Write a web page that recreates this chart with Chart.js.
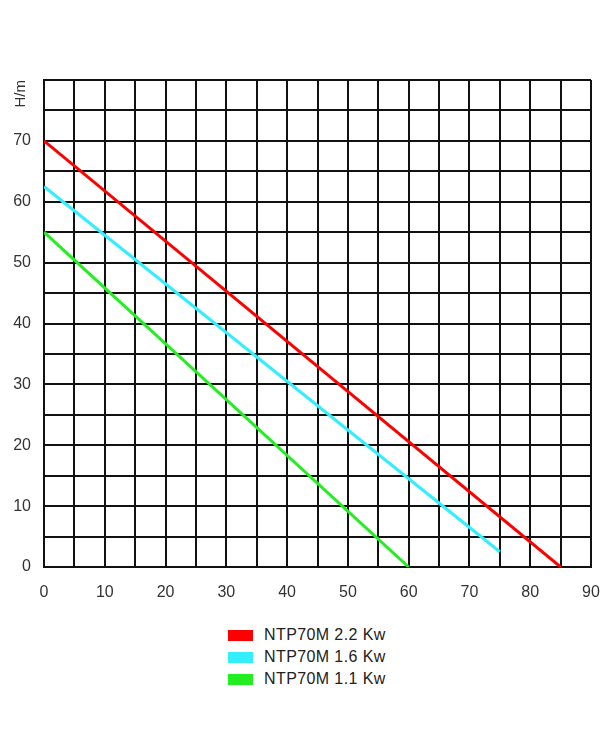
<!DOCTYPE html>
<html>
<head>
<meta charset="utf-8">
<script src="https://cdn.jsdelivr.net/npm/chart.js@4.4.0/dist/chart.umd.min.js"></script>
<style>
  body { margin: 0; background: #fff; font-family: "Liberation Sans", Arial, sans-serif; }
  .wrap { position: relative; width: 600px; height: 750px; }
  .plot { position: absolute; left: 0; top: 0; width: 600px; height: 605px; }
  #legend { position: absolute; left: 228px; top: 624px; font-size: 16px; letter-spacing: 0.4px; color: #222; }
  #legend div { height: 22px; line-height: 22px; display: flex; align-items: center; }
  #legend span.box { display: inline-block; width: 25px; height: 11px; margin-right: 11px; }
</style>
</head>
<body>
<div class="wrap">
  <div class="plot"><canvas id="chart"></canvas></div>
  <div id="legend"></div>
</div>
<script>
// flow Q (m3/h) and head H (m)
const seriesNames = ['NTP70M 2.2 Kw', 'NTP70M 1.6 Kw', 'NTP70M 1.1 Kw'];
const seriesColors = ['#ff0000', '#33eeff', '#22ee22'];
const flow22 = [0, 85];
const head22 = [70, 0];
const flow16 = [0, 75];
const head16 = [62.5, 2.5];
const flow11 = [0, 60];
const head11 = [55, 0];
const xTicks = [0, 10, 20, 30, 40, 50, 60, 70, 80, 90];
const yTicks = [0, 10, 20, 30, 40, 50, 60, 70];

const toPoints = (xs, ys) => xs.map((x, i) => ({ x: x, y: ys[i] }));
const flows = [flow22, flow16, flow11];
const heads = [head22, head16, head11];

const datasets = seriesNames.map((name, i) => ({
  label: name,
  data: toPoints(flows[i], heads[i]),
  borderColor: seriesColors[i],
  backgroundColor: seriesColors[i],
  borderWidth: 3,
  pointRadius: 0,
  showLine: true,
  fill: false
}));

const tickFont = { family: '"Liberation Sans", Arial, sans-serif', size: 16 };

new Chart(document.getElementById('chart'), {
  type: 'scatter',
  data: { datasets: datasets },
  options: {
    responsive: true,
    maintainAspectRatio: false,
    animation: false,
    layout: { padding: { top: 80, right: 9, left: 0, bottom: 0 } },
    plugins: { legend: { display: false }, tooltip: { enabled: false } },
    scales: {
      x: {
        type: 'linear',
        min: 0,
        max: 90,
        ticks: {
          stepSize: 5,
          color: '#333',
          font: tickFont,
          padding: 16,
          maxRotation: 0,
          autoSkip: false,
          callback: v => xTicks.includes(v) ? String(v) : ''
        },
        grid: { color: '#111', lineWidth: 2, drawTicks: false },
        border: { color: '#111', width: 2 },
        afterFit: s => { s.height = 38; s.paddingLeft = 0; s.paddingRight = 0; }
      },
      y: {
        type: 'linear',
        min: 0,
        max: 80,
        ticks: {
          stepSize: 5,
          color: '#333',
          font: tickFont,
          padding: 13,
          autoSkip: false,
          callback: v => yTicks.includes(v) ? String(v) : ''
        },
        title: {
          display: true,
          text: 'H/m',
          align: 'end',
          color: '#333',
          font: { family: '"Liberation Sans", Arial, sans-serif', size: 15 },
          padding: { top: 12, bottom: 0 }
        },
        grid: { color: '#111', lineWidth: 2, drawTicks: false },
        border: { color: '#111', width: 2 },
        afterFit: s => { s.width = 44; s.paddingTop = 0; s.paddingBottom = 0; }
      }
    }
  }
});

const legend = document.getElementById('legend');
seriesNames.forEach((name, i) => {
  const row = document.createElement('div');
  row.innerHTML = '<span class="box" style="background:' + seriesColors[i] + '"></span>' + name;
  legend.appendChild(row);
});
</script>
</body>
</html>
